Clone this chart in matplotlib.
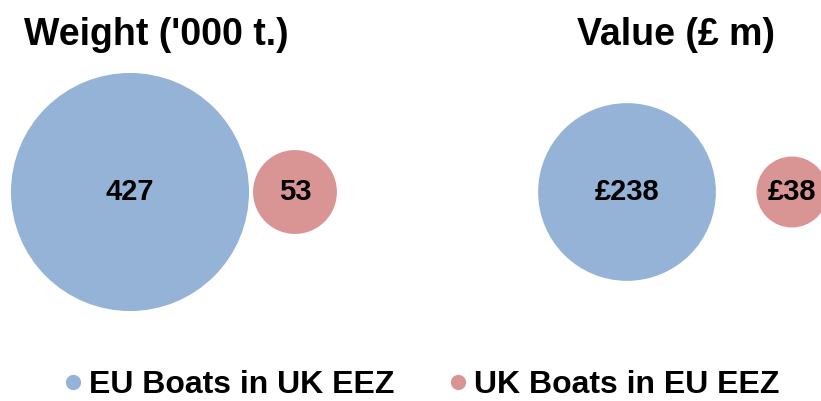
import matplotlib.pyplot as plt
from matplotlib.lines import Line2D

plt.rcParams['font.family'] = ['Liberation Sans', 'DejaVu Sans']
plt.rcParams['font.weight'] = 'bold'

# catch figures: EU boats fishing in UK waters vs UK boats in EU waters
groups = ['EU Boats in UK EEZ', 'UK Boats in EU EEZ']
weight = [427, 53]      # '000 tonnes
value = [238, 38]       # £ million
colors = ['#95B3D7', '#D99594']

# bubble area proportional to the number (points^2 per unit)
AREA_PER_UNIT = 68.8

fig = plt.figure(figsize=(8.21, 4.01), dpi=100)
W, H = 821, 401


def bubble_panel(rect_px, xlim, values, title, fmt):
    left, bottom, width, height = rect_px
    ax = fig.add_axes([left / W, bottom / H, width / W, height / H])
    xs = list(range(len(values)))
    ax.scatter(xs, [0] * len(values), s=[v * AREA_PER_UNIT for v in values],
               c=colors, linewidths=0, zorder=2, clip_on=False)
    for x, v in zip(xs, values):
        ax.text(x, 0, fmt.format(v), ha='center', va='center',
                fontsize=21, fontweight='bold', zorder=3)
    ax.set_xlim(*xlim)
    ax.set_ylim(-1, 1)
    ax.axis('off')
    ax.text(0.5, 1.0 + 15 / height, title, transform=ax.transAxes,
            ha='center', va='center', fontsize=27, fontweight='bold')
    return ax


# 165 px between bubble centres in each panel
bubble_panel((0, 67, 312, 284), (-130 / 165, 182 / 165), weight,
             "Weight ('000 t.)", '{}')
bubble_panel((531, 67, 290, 284), (-96 / 165, 194 / 165), value,
             'Value (£ m)', '£{}')

handles = [Line2D([], [], marker='o', linestyle='', markersize=11,
                  markerfacecolor=c, markeredgewidth=0) for c in colors]
fig.legend(handles, groups, loc='center', bbox_to_anchor=(420 / W, 1 - 385 / H),
           ncol=2, frameon=False, handletextpad=0.1,
           columnspacing=1.6, handlelength=0.8,
           prop={'weight': 'bold', 'size': 23})

fig.savefig('out.png', dpi=100)
